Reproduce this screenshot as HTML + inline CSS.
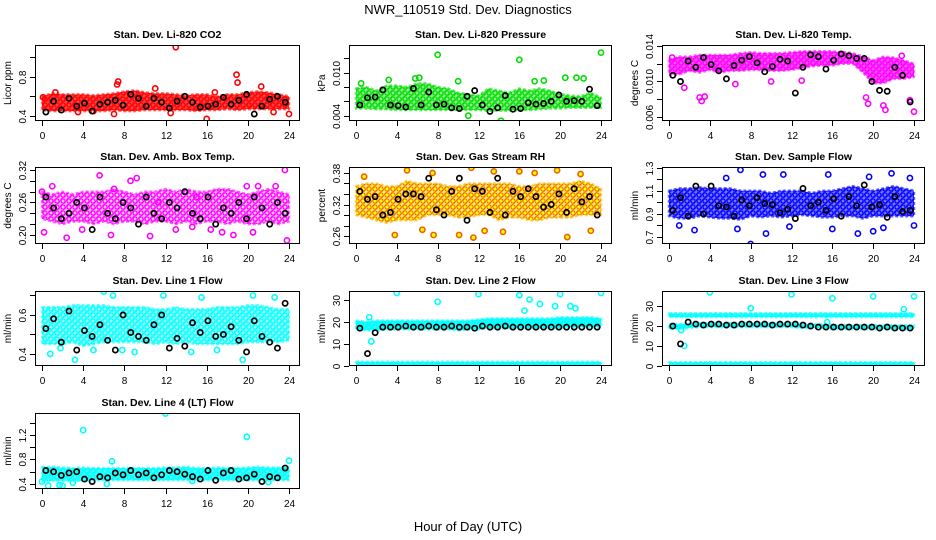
<!DOCTYPE html>
<html><head><meta charset="utf-8">
<style>
body{margin:0;background:#fff;}
svg{display:block;font-family:"Liberation Sans",sans-serif;}
</style></head>
<body>
<svg id="chart" width="936" height="540" viewBox="0 0 936 540" xmlns="http://www.w3.org/2000/svg">
<rect width="936" height="540" fill="#fff"/>
<text x="468" y="14" text-anchor="middle" font-size="13">NWR_110519  Std. Dev. Diagnostics</text>
<text x="468" y="531" text-anchor="middle" font-size="13">Hour of Day (UTC)</text>
</svg>
<script>
const NS="http://www.w3.org/2000/svg";
const svg=document.getElementById('chart');
const hours=[0,1,2,3,4,5,6,7,8,9,10,11,12,13,14,15,16,17,18,19,20,21,22,23,24];
const xTicks=[0,4,8,12,16,20,24];

// ---- CO2 ----
const co2Lo=[.46,.45,.45,.45,.45,.45,.45,.46,.45,.45,.46,.46,.46,.46,.46,.45,.46,.46,.47,.46,.47,.47,.47,.47,.47];
const co2Hi=[.60,.63,.62,.62,.62,.61,.62,.63,.65,.66,.64,.63,.63,.62,.61,.62,.62,.60,.62,.62,.64,.65,.64,.62,.60];
const co2OutX=[13,16,18.9,19,7.4,7.3,21.3,11,7,12.5,22.5,24,3.5,5,0.1,16.8,1.3];
const co2OutY=[1.1,0.37,0.82,0.74,0.75,0.72,0.70,0.68,0.42,0.43,0.44,0.42,0.44,0.45,0.59,0.64,0.64];
const co2Black=[.44,.55,.46,.58,.50,.53,.45,.52,.54,.56,.51,.62,.58,.50,.58,.54,.48,.55,.60,.54,.49,.50,.52,.59,.52,.56,.62,.42,.50,.57,.60,.54];
// ---- Pressure ----
const prLo=[.0050,.0050,.0049,.0049,.0048,.0048,.0048,.0048,.0048,.0048,.0048,.0048,.0048,.0047,.0047,.0047,.0048,.0048,.0049,.0050,.0050,.0051,.0051,.0051,.0051];
const prHi=[.0078,.0080,.0075,.0082,.0082,.0080,.0085,.0085,.0080,.0078,.0072,.0070,.0068,.0078,.0075,.0072,.0078,.0075,.0078,.0075,.0070,.0068,.0067,.0072,.0065];
const prOutX=[8,16,24,14.2,11,5.8,3.2,18.4,20.5,21.6,22.3,0.5,10,6.2,17.5];
const prOutY=[.0125,.0118,.0128,.0033,.0040,.0092,.0090,.0089,.0093,.0093,.0092,.0085,.0088,.0093,.0088];
const prBlack=[.0055,.0065,.0066,.0076,.0055,.0054,.0052,.0078,.0055,.0073,.0055,.0056,.0051,.0050,.0067,.0075,.0055,.0046,.0051,.0068,.0049,.0050,.0058,.0056,.0057,.0060,.0069,.0060,.0061,.0060,.0077,.0054];
// ---- Temp ----
const tLo=[.0108,.0108,.0112,.0110,.0113,.0110,.0112,.0112,.0113,.0113,.0112,.0112,.0113,.0115,.0117,.0118,.0118,.0120,.0120,.0110,.0098,.0098,.0103,.0103,.0105];
const tHi=[.0125,.0128,.0128,.0130,.0130,.0130,.0130,.0132,.0133,.0132,.0132,.0132,.0133,.0134,.0134,.0134,.0134,.0133,.0132,.0128,.0124,.0128,.0127,.0124,.0120];
const tOutX=[3,3.2,3.5,0.3,19.5,21,23.6,24,1.5,6.5,10,13,21.2,22.8,19.3];
const tOutY=[.0082,.0078,.0083,.0127,.0075,.0073,.0079,.0066,.0093,.0097,.0100,.0101,.0068,.0129,.0082];
const tBlack=[.0107,.0100,.0123,.0116,.0127,.0119,.0112,.0103,.0118,.0124,.0128,.0121,.0111,.0117,.0125,.0123,.0087,.0116,.0130,.0128,.0114,.0124,.0131,.0129,.0126,.0126,.0100,.0090,.0089,.0116,.0107,.0077];
// ---- Amb box ----
const aLo=[.23,.225,.22,.225,.225,.22,.225,.22,.225,.225,.22,.225,.225,.22,.225,.22,.225,.225,.22,.225,.22,.22,.225,.22,.225];
const aHi=[.28,.275,.28,.275,.28,.28,.28,.285,.28,.275,.28,.28,.285,.28,.285,.28,.28,.285,.285,.28,.275,.28,.285,.28,.275];
const aOutX=[0,1,2.4,5.6,8.6,9.2,10.5,11.3,13,15,17.5,18.6,19.9,21,22.7,23.6,23.8,0.2,3.9,6.7,14.6,16.4,20.5,7];
const aOutY=[.28,.29,.195,.31,.30,.305,.198,.26,.21,.27,.205,.20,.29,.29,.29,.32,.19,.205,.21,.20,.215,.21,.205,.285];
const aBlack=[.27,.25,.23,.24,.26,.25,.21,.27,.24,.23,.26,.25,.22,.27,.24,.23,.26,.25,.28,.24,.23,.27,.22,.25,.24,.26,.23,.27,.25,.22,.26,.24];
// ---- RH ----
const rLo=[.30,.295,.29,.285,.29,.29,.29,.30,.30,.30,.295,.295,.30,.30,.29,.295,.295,.29,.29,.295,.295,.295,.30,.30,.30];
const rHi=[.355,.36,.36,.355,.355,.365,.36,.36,.36,.355,.355,.36,.36,.36,.36,.36,.355,.355,.36,.36,.36,.36,.365,.36,.35];
const rOutX=[5,7.5,11.3,11.5,13.5,16,17.5,19.7,22,3.8,7.6,10.1,12.6,20.7,23,0.8,14.4,6.5];
const rOutY=[.385,.38,.39,.257,.383,.383,.38,.385,.378,.262,.262,.262,.27,.258,.27,.373,.268,.272];
const rBlack=[.345,.33,.335,.30,.305,.33,.34,.34,.335,.37,.31,.30,.345,.37,.29,.35,.345,.305,.37,.30,.345,.335,.35,.335,.315,.32,.34,.305,.35,.325,.335,.30];
// ---- Sample flow ----
const sLo=[.88,.86,.86,.88,.87,.86,.86,.85,.88,.87,.88,.87,.88,.89,.88,.87,.87,.88,.88,.86,.88,.88,.88,.88,.88];
const sHi=[1.10,1.12,1.12,1.13,1.12,1.12,1.12,1.10,1.10,1.10,1.08,1.10,1.10,1.10,1.08,1.10,1.10,1.12,1.14,1.12,1.10,1.12,1.14,1.12,1.10];
const sOutX=[8,9.5,2.5,6.7,11.8,18.5,20,21,24,7,9.2,11.2,15.6,19.6,21.8,23.6,5.6,1,16];
const sOutY=[.64,.73,.76,.77,.79,.73,.75,.78,.80,1.28,1.24,1.24,1.24,1.22,1.25,1.21,1.21,.80,.77];
const sBlack=[.93,1.04,.88,1.14,.90,1.14,.97,.96,.88,1.02,.97,1.04,.99,.98,.91,.94,.86,1.12,.97,1.00,.93,1.03,.88,1.05,.97,1.15,.96,.98,.87,1.05,.92,.93];
// ---- Line 1 ----
const l1Lo=[.45,.45,.45,.46,.44,.45,.46,.46,.46,.46,.46,.45,.46,.45,.46,.45,.45,.45,.45,.45,.46,.46,.46,.46,.47];
const l1Hi=[.64,.64,.64,.65,.65,.65,.65,.64,.64,.64,.64,.63,.63,.64,.63,.63,.63,.64,.64,.64,.65,.65,.64,.63,.63];
const l1OutX=[6,6.9,11.8,15.5,12,1.8,3.2,0.8,5,14.5,17,20.5,22.6,19.5,9,7.8];
const l1OutY=[.72,.70,.70,.69,.32,.43,.37,.40,.42,.41,.42,.70,.69,.37,.41,.42];
const l1Black=[.53,.58,.46,.62,.42,.52,.49,.55,.47,.42,.60,.51,.49,.47,.55,.60,.43,.48,.44,.56,.51,.57,.49,.50,.54,.47,.41,.57,.49,.46,.43,.66];
// ---- Line 2 ----
const l2Lo=[16.5,16,16,16.5,16.5,16.5,16.5,16.5,16.5,16.5,16,16.5,16.5,17,17,17,17,17,17,17,17,17.5,17.5,17.5,17.5];
const l2Hi=[20.5,20,20.5,20.5,20.5,20.5,20.5,20.5,20.5,20.5,20.5,20.5,21,21.5,21.5,21.5,21.5,21.5,21.5,21.5,22,22,22,22,21.5];
const l2BaseLo=[.3,.3,.3,.3,.3,.3,.3,.3,.3,.3,.3,.3,.3,.3,.3,.3,.3,.3,.3,.3,.3,.3,.3,.3,.3];
const l2BaseHi=[1.8,1.8,1.8,1.8,1.8,1.8,1.8,1.8,1.8,1.8,1.8,1.8,1.8,1.8,1.8,1.8,1.8,1.8,1.8,1.8,1.8,1.8,1.8,1.8,1.8];
const l2OutX=[4,8,12,16,16.5,17,18,19.5,20,21,21.5,24,1.5,1.3];
const l2OutY=[33,29,32.5,32,25,30,28,27,32.5,27,26,33,11,22];
const l2Black=[17,5.5,15,17.5,17.5,17.5,18,17.5,17.5,18,17.5,17.5,18,17.5,17.5,17,18,17.5,17.5,18,17.5,17.5,17.5,17.5,17.5,17.5,17.5,17.5,17.5,17.5,17.5,17.5];
// ---- Line 3 ----
const l3TopLo=[24.5,24.5,24.5,24.5,24.5,24.5,24.5,24.5,24.5,24.5,24.5,24.5,24.5,24.5,24.5,24.5,24.5,24.5,24.5,24.5,24.5,24.5,24.5,24.5,24.5];
const l3TopHi=[26.5,26.5,26.5,26.5,26.5,26.5,26.5,26.5,26.5,26.5,26.5,26.5,26.5,26.5,26.5,26.5,26.5,26.5,26.5,26.5,26.5,26.5,26.5,26.5,26.5];
const l3MidLo=[18.5,18.5,19,19.5,19.5,19.5,19.5,19.5,19.5,19.5,19.5,19.5,19.5,19,19,19,18.5,18.5,18.5,18.5,18.5,18.5,18.5,18.5,18.5];
const l3MidHi=[21,21,21.5,21.5,21.5,21.5,21.5,21.5,21.5,21.5,21.5,21.5,21.5,21,21,21,20.5,20.5,20.5,20.5,20.5,20.5,20.5,20.5,20.5];
const l3BaseLo=[.3,.3,.3,.3,.3,.3,.3,.3,.3,.3,.3,.3,.3,.3,.3,.3,.3,.3,.3,.3,.3,.3,.3,.3,.3];
const l3BaseHi=[1.8,1.8,1.8,1.8,1.8,1.8,1.8,1.8,1.8,1.8,1.8,1.8,1.8,1.8,1.8,1.8,1.8,1.8,1.8,1.8,1.8,1.8,1.8,1.8,1.8];
const l3OutX=[4,12,16,20,24,8,23,1.5,1.2,15.5];
const l3OutY=[37,36,34,35,35,29,28.5,10,18,22];
const l3Black=[20,11,22,21,20.5,21,21,20.5,20.5,21,21,21,21,20.5,21,21,21,20.5,20,19.5,19.5,19.5,19.5,19.5,19.5,19.5,19.5,19,19.5,19,19,19];
// ---- Line 4 ----
const l4Lo=[.44,.45,.45,.45,.45,.46,.46,.46,.46,.46,.46,.46,.46,.46,.46,.46,.46,.46,.46,.46,.46,.46,.46,.46,.46];
const l4Hi=[.68,.68,.67,.66,.67,.66,.66,.66,.66,.66,.66,.66,.67,.67,.68,.66,.66,.67,.66,.66,.67,.68,.67,.67,.68];
const l4OutX=[4,12,19.9,24,6.8,0,0.6,1.7,2,6.3,3,14.6,22];
const l4OutY=[1.28,1.55,1.17,.78,.77,.44,.37,.38,.37,.40,.42,.45,.43];
const l4Black=[.62,.60,.54,.58,.60,.48,.44,.52,.50,.58,.55,.62,.55,.58,.50,.55,.62,.60,.56,.52,.48,.62,.46,.58,.62,.48,.50,.56,.44,.52,.50,.66];

const cols=[[35,300],[349,612],[662,925]];
const rows=[[45,121],[167,244],[291,366],[413,489]];

const panels=[
 {name:'co2',title:'Stan. Dev. Li-820 CO2',yt:'Licor ppm',c:0,r:0,dom:[.349,1.122],ticks:[.4,.6,.8,1.0],labs:['0.4','','0.8',''],color:'#ff0000',bg:.75,bands:[[co2Lo,co2Hi]],ox:co2OutX,oy:co2OutY,blk:co2Black},
 {name:'pressure',title:'Stan. Dev. Li-820 Pressure',yt:'kPa',c:1,r:0,dom:[.00326,.01386],ticks:[.004,.006,.008,.010,.012],labs:['0.004','','','0.010',''],color:'#00dd00',bg:.45,bands:[[prLo,prHi]],ox:prOutX,oy:prOutY,blk:prBlack},
 {name:'temp',title:'Stan. Dev. Li-820 Temp.',yt:'degrees C',c:2,r:0,dom:[.00555,.01411],ticks:[.006,.008,.010,.012,.014],labs:['0.006','','0.010','','0.014'],color:'#ff00ff',bg:.7,bands:[[tLo,tHi]],ox:tOutX,oy:tOutY,blk:tBlack},
 {name:'amb-box',title:'Stan. Dev. Amb. Box Temp.',yt:'degrees C',c:0,r:1,dom:[.1834,.3255],ticks:[.20,.22,.24,.26,.28,.30,.32],labs:['0.20','','','0.26','','','0.32'],color:'#ff00ff',bg:.25,bands:[[aLo,aHi]],ox:aOutX,oy:aOutY,blk:aBlack},
 {name:'gas-rh',title:'Stan. Dev. Gas Stream RH',yt:'percent',c:1,r:1,dom:[.2448,.3914],ticks:[.26,.28,.30,.32,.34,.36,.38],labs:['0.26','','','0.32','','','0.38'],color:'#f8b000',bg:.6,bgc:'#ffe000',pt:'#f06000',ptw:1,pf:'#ffff00',bands:[[rLo,rHi]],ox:rOutX,oy:rOutY,blk:rBlack},
 {name:'sample-flow',title:'Stan. Dev. Sample Flow',yt:'ml/min',c:2,r:1,dom:[.64,1.305],ticks:[.7,.8,.9,1.0,1.1,1.2,1.3],labs:['0.7','','0.9','','1.1','','1.3'],color:'#0000ff',bg:.55,bands:[[sLo,sHi]],ox:sOutX,oy:sOutY,blk:sBlack},
 {name:'line1-flow',title:'Stan. Dev. Line 1 Flow',yt:'ml/min',c:0,r:2,dom:[.338,.723],ticks:[.4,.5,.6,.7],labs:['0.4','','0.6',''],color:'#00ffff',bg:.4,bands:[[l1Lo,l1Hi]],ox:l1OutX,oy:l1OutY,blk:l1Black},
 {name:'line2-flow',title:'Stan. Dev. Line 2 Flow',yt:'ml/min',c:1,r:2,dom:[-.14,33.9],ticks:[0,10,20,30],labs:['0','10','20','30'],color:'#00ffff',bg:.9,bands:[[l2Lo,l2Hi],[l2BaseLo,l2BaseHi]],ox:l2OutX,oy:l2OutY,blk:l2Black},
 {name:'line3-flow',title:'Stan. Dev. Line 3 Flow',yt:'ml/min',c:2,r:2,dom:[-.15,37.7],ticks:[0,10,20,30],labs:['0','10','20','30'],color:'#00ffff',bg:.9,bands:[[l3TopLo,l3TopHi],[l3MidLo,l3MidHi],[l3BaseLo,l3BaseHi]],ox:l3OutX,oy:l3OutY,blk:l3Black},
 {name:'line4-flow',title:'Stan. Dev. Line 4 (LT) Flow',yt:'ml/min',c:0,r:3,dom:[.318,1.559],ticks:[.4,.6,.8,1.0,1.2,1.4],labs:['0.4','','0.8','','1.2',''],color:'#00ffff',bg:.75,bands:[[l4Lo,l4Hi]],ox:l4OutX,oy:l4OutY,blk:l4Black}
];

function mk(tag,attrs,parent){const e=document.createElementNS(NS,tag);for(const k in attrs)e.setAttribute(k,attrs[k]);(parent||svg).appendChild(e);return e;}
const defs=mk('defs',{});

panels.forEach(p=>{
  const L=cols[p.c][0],R=cols[p.c][1],T=rows[p.r][0],B=rows[p.r][1];
  const xs=v=>L+7+v*(R-18-L)/24;
  const ys=v=>B-(v-p.dom[0])/(p.dom[1]-p.dom[0])*(B-T);
  const sw=p.ptw||1.3;
  const pat=mk('pattern',{id:'pat-'+p.name,width:6,height:6,patternUnits:'userSpaceOnUse'},defs);
  mk('rect',{x:0,y:0,width:6,height:6,fill:p.bgc||p.color,'fill-opacity':p.bg},pat);
  mk('circle',{cx:3,cy:3,r:2.1,fill:p.pf||'none',stroke:p.pt||p.color,'stroke-width':sw},pat);
  mk('circle',{cx:0,cy:0,r:2.1,fill:'none',stroke:p.pt||p.color,'stroke-width':sw},pat);
  mk('circle',{cx:6,cy:6,r:2.1,fill:'none',stroke:p.pt||p.color,'stroke-width':sw},pat);
  const g=mk('g',{});
  
  
  const clip=mk('clipPath',{id:'clip-'+p.name},g);
  mk('rect',{x:L,y:T,width:R-L,height:B-T},clip);
  const plot=mk('g',{'clip-path':'url(#clip-'+p.name+')'},g);
  p.bands.forEach((b,bi)=>{
    let pts=hours.map((h,i)=>xs(h)+','+ys(b[1][i]));
    pts=pts.concat(hours.slice().reverse().map((h,j)=>xs(h)+','+ys(b[0][hours.length-1-j])));
    const poly=mk('polygon',{points:pts.join(' '),fill:'url(#pat-'+p.name+')',stroke:p.color,'stroke-width':2.5,'stroke-opacity':.6,'stroke-dasharray':'3 2','stroke-linejoin':'round'},plot);
    
    
  });
  p.ox.forEach((x,i)=>{
    const c=mk('circle',{cx:xs(x),cy:ys(p.oy[i]),r:2.6,fill:p.pf||'none',stroke:p.pt||p.color,'stroke-width':1.6},plot);
    
    
  });
  const n=p.blk.length;
  p.blk.forEach((v,i)=>{
    const c=mk('circle',{cx:xs((i+0.5)*24/n),cy:ys(v),r:2.6,fill:'none',stroke:'#000','stroke-width':1.7},plot);
    
    
  });
  const box=mk('rect',{x:L+.5,y:T+.5,width:R-L-1,height:B-T-1,fill:'none',stroke:'#000','stroke-width':1},g);
  
  
  const xa=mk('g',{},g);
  
  
  xTicks.forEach(t=>{
    const x=Math.round(xs(t))+.5;
    mk('line',{x1:x,x2:x,y1:B,y2:B+5,stroke:'#000'},xa);
    const tx=mk('text',{x:x,y:B+18,'text-anchor':'middle','font-size':10},xa);
    tx.textContent=t;
  });
  const ya=mk('g',{},g);
  
  
  p.ticks.forEach((t,i)=>{
    const y=Math.round(ys(t))+.5;
    mk('line',{x1:L-5,x2:L,y1:y,y2:y,stroke:'#000'},ya);
    if(p.labs[i]){
      const tx=mk('text',{x:L-9,y:y,'text-anchor':'middle','font-size':10,transform:'rotate(-90 '+(L-9)+' '+y+')'},ya);
      tx.textContent=p.labs[i];
    }
  });
  const yt=mk('text',{x:L-24,y:(T+B)/2,'text-anchor':'middle','font-size':10,transform:'rotate(-90 '+(L-24)+' '+((T+B)/2)+')'},g);
  
  
  yt.textContent=p.yt;
  const ti=mk('text',{x:(L+R)/2,y:T-7,'text-anchor':'middle','font-size':10.5,'font-weight':'bold'},g);
  
  
  ti.textContent=p.title;
});
</script>
</body></html>
